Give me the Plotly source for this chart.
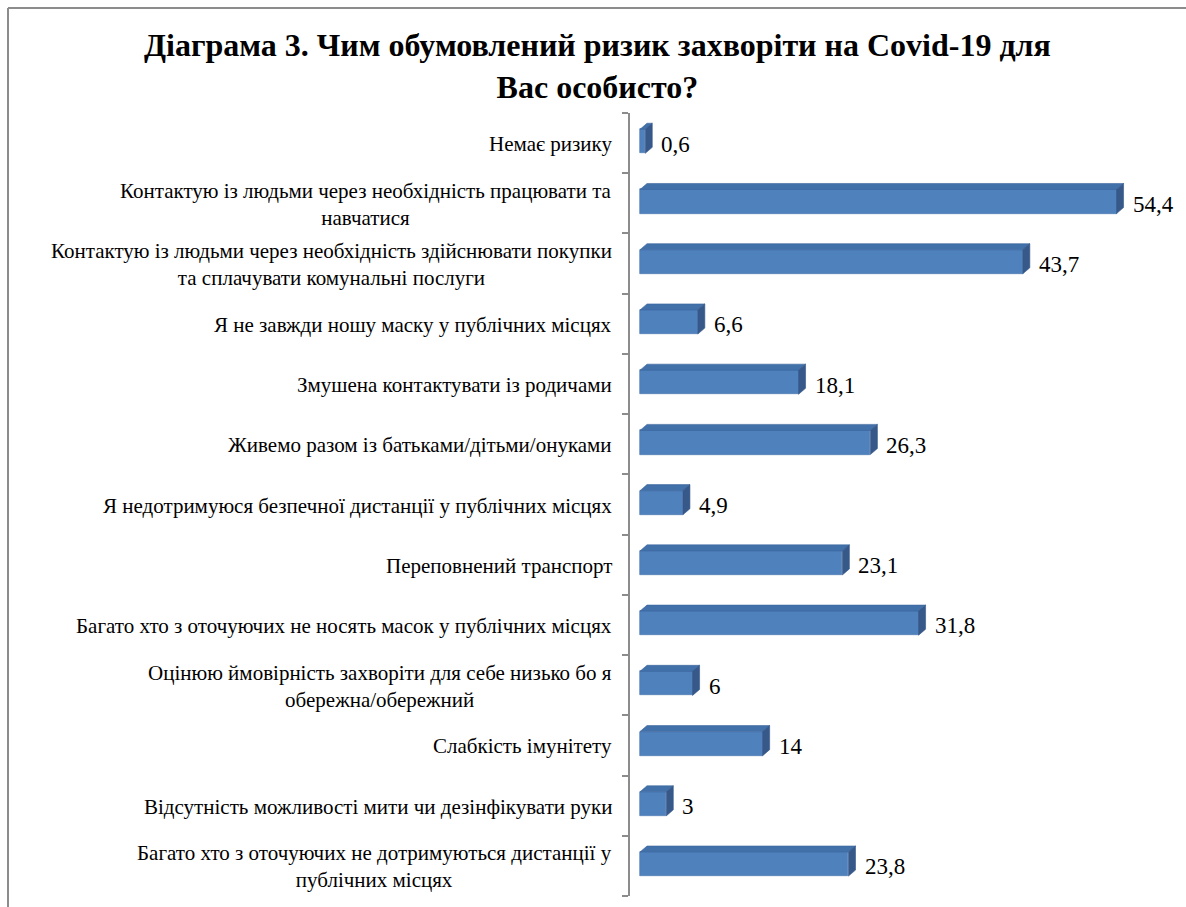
import plotly.graph_objects as go

# Survey answers (top to bottom) and their shares, %
categories = [
    "Немає ризику",
    "Контактую із людьми через необхідність працювати та<br>навчатися",
    "Контактую із людьми через необхідність здійснювати покупки<br>та сплачувати комунальні послуги",
    "Я не завжди ношу маску у публічних місцях",
    "Змушена контактувати із родичами",
    "Живемо разом із батьками/дітьми/онуками",
    "Я недотримуюся безпечної дистанції у публічних місцях",
    "Переповнений транспорт",
    "Багато хто з оточуючих не носять масок у публічних місцях",
    "Оцінюю ймовірність захворіти для себе низько бо я<br>обережна/обережний",
    "Слабкість імунітету",
    "Відсутність можливості мити чи дезінфікувати руки",
    "Багато хто з оточуючих не дотримуються дистанції у<br>публічних місцях",
]
values = [0.6, 54.4, 43.7, 6.6, 18.1, 26.3, 4.9, 23.1, 31.8, 6, 14, 3, 23.8]

title_text = ("<b>Діаграма 3. Чим обумовлений ризик захворіти на Covid-19 для"
              "<br>Вас особисто?</b>")

# Geometry of the pseudo-3D bars (data units)
BAR_H = 0.40      # height of the front face, in category units
SHIFT = -0.03     # vertical shift of the front face from the row centre
DX = 0.8          # depth offset along x
DY = 0.10         # depth offset along y (upwards)
PX_PER_UNIT = 8.76

FRONT = "#4F81BD"
TOP = "#4271AA"
SIDE = "#36598A"
SERIF = "Liberation Serif"

fig = go.Figure()

ys = list(range(len(categories)))

# top and side faces as filled polygons
for i, v in enumerate(values):
    c = i + SHIFT
    yt = c - BAR_H / 2
    yb = c + BAR_H / 2
    fig.add_trace(go.Scatter(
        x=[0, v, v + DX, DX, 0],
        y=[yt, yt, yt - DY, yt - DY, yt],
        fill="toself", fillcolor=TOP, mode="lines",
        line=dict(color="#3A659C", width=0.6),
        hoverinfo="skip", showlegend=False))
    fig.add_trace(go.Scatter(
        x=[v, v + DX, v + DX, v, v],
        y=[yt, yt - DY, yb - DY, yb, yt],
        fill="toself", fillcolor=SIDE, mode="lines",
        line=dict(color="#34568A", width=0.6),
        hoverinfo="skip", showlegend=False))

# front faces
fig.add_trace(go.Bar(
    x=values, y=[i + SHIFT for i in ys], orientation="h",
    width=BAR_H, marker=dict(color=FRONT, line=dict(color="#4676B0", width=0.6)),
    hoverinfo="skip", showlegend=False))

# value labels
for i, v in enumerate(values):
    txt = (f"{v:g}").replace(".", ",")
    fig.add_annotation(x=v + DX, y=i, text=txt, xanchor="left", yanchor="middle",
                       xshift=7, yshift=-1, showarrow=False,
                       font=dict(family=SERIF, size=23, color="#000000"))

# category labels (centred lines, right-anchored block)
for i, cat in enumerate(categories):
    fig.add_annotation(x=0, xref="paper", y=i, text=cat, xanchor="right",
                       yanchor="middle", align="center", xshift=-16,
                       yshift=-1, showarrow=False,
                       font=dict(family=SERIF, size=21, color="#000000"))

L, R, T, B = 630, 6, 113, 11
W, H = 1186, 907
pw, ph = W - L - R, H - T - B

def px_x(p):
    return (p - L) / pw

def px_y(p):
    return (H - B - p) / ph

# chart title
fig.add_annotation(x=px_x(597), y=px_y(66), xref="paper", yref="paper",
                   xanchor="center", yanchor="middle", align="center",
                   text=title_text, showarrow=False,
                   font=dict(family=SERIF, size=32, color="#000000"))

# outer chart frame (top and left edges)
frame = dict(color="#8C8C8C", width=2)
fig.add_shape(type="line", xref="paper", yref="paper",
              x0=px_x(8), x1=px_x(1200), y0=px_y(8), y1=px_y(8), line=frame)
fig.add_shape(type="line", xref="paper", yref="paper",
              x0=px_x(8), x1=px_x(8), y0=px_y(8), y1=px_y(920), line=frame)

x0 = -10 / PX_PER_UNIT
fig.update_layout(
    width=W, height=H,
    margin=dict(l=L, r=R, t=T, b=B),
    paper_bgcolor="white", plot_bgcolor="white",
    xaxis=dict(range=[x0, x0 + pw / PX_PER_UNIT], visible=False,
               fixedrange=True),
    yaxis=dict(range=[len(categories) - 0.5, -0.5], tickvals=ys,
               ticktext=["" for _ in ys], ticks="", showgrid=False,
               zeroline=False, showline=True, linecolor="#8C8C8C", linewidth=2,
               minor=dict(tick0=-0.5, dtick=1, ticks="outside", ticklen=6,
                          tickcolor="#8C8C8C", tickwidth=2, showgrid=False)),
    bargap=0,
)

fig.write_html("out.html")
